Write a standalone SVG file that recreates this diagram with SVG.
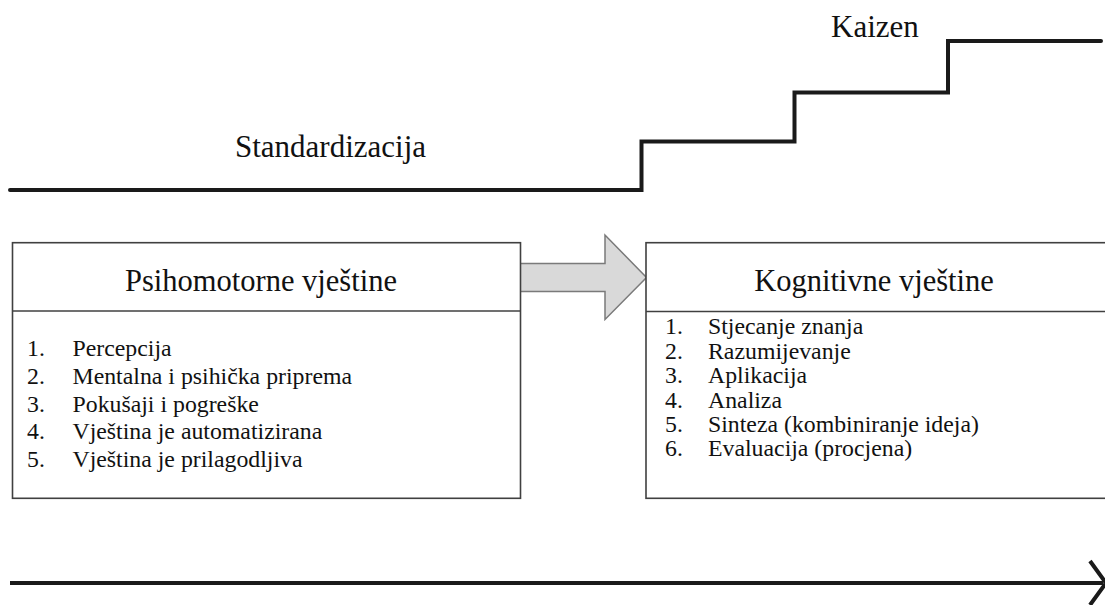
<svg xmlns="http://www.w3.org/2000/svg" width="1105" height="605" viewBox="0 0 1105 605" font-family="'Liberation Serif', 'Times New Roman', 'DejaVu Serif', serif">
<style>
text{font-family:'Liberation Serif','Times New Roman','DejaVu Serif',serif;fill:#111}
.title{font-size:30.5px;text-anchor:middle}
.lbl{font-size:31px}
.item{font-size:23.8px}
.box{fill:#fff;stroke:#404040;stroke-width:1.6}
.thick{fill:none;stroke:#1a1a1a;stroke-width:4;stroke-linejoin:miter}
</style>
<rect width="1105" height="605" fill="#fff"/>
<g id="connectors">
<path class="thick" d="M10,190 H641.5 V141.5 H794.5 V92.5 H948 V41 H1101" stroke-linecap="round"/>
<path id="shift-arrow" d="M520,263.5 H605 V235 L646.5,277.5 L605,319.5 V291.5 H520 Z" fill="#d9d9d9" stroke="#7a7a7a" stroke-width="1.5"/>
<path class="thick" d="M10,583 H1103" stroke-width="3.6"/>
<path class="thick" d="M1090,561 L1106,583 L1090,605" stroke-width="3.6"/>
</g>
<g id="standardizacija"><text class="lbl" x="235" y="157">Standardizacija</text></g>
<g id="kaizen"><text class="lbl" x="831" y="37">Kaizen</text></g>
<g id="psihomotorne">
<rect class="box" x="12.5" y="242.7" width="508" height="255.6"/>
<line class="box" x1="12.5" y1="311" x2="520.5" y2="311"/>
<text class="title" x="261" y="291">Psihomotorne vještine</text>
<text class="item" x="27" y="356">1.</text><text class="item" x="72.5" y="356">Percepcija</text>
<text class="item" x="27" y="384">2.</text><text class="item" x="72.5" y="384">Mentalna i psihička priprema</text>
<text class="item" x="27" y="411.5">3.</text><text class="item" x="72.5" y="411.5">Pokušaji i pogreške</text>
<text class="item" x="27" y="439">4.</text><text class="item" x="72.5" y="439">Vještina je automatizirana</text>
<text class="item" x="27" y="466.5">5.</text><text class="item" x="72.5" y="466.5">Vještina je prilagodljiva</text>
</g>
<g id="kognitivne">
<rect class="box" x="646" y="242.7" width="470" height="255.6"/>
<line class="box" x1="646" y1="311.5" x2="1110" y2="311.5"/>
<text class="title" x="874" y="291">Kognitivne vještine</text>
<text class="item" x="665" y="334">1.</text><text class="item" x="708" y="334">Stjecanje znanja</text>
<text class="item" x="665" y="358.5">2.</text><text class="item" x="708" y="358.5">Razumijevanje</text>
<text class="item" x="665" y="383">3.</text><text class="item" x="708" y="383">Aplikacija</text>
<text class="item" x="665" y="407.5">4.</text><text class="item" x="708" y="407.5">Analiza</text>
<text class="item" x="665" y="432">5.</text><text class="item" x="708" y="432">Sinteza (kombiniranje ideja)</text>
<text class="item" x="665" y="456">6.</text><text class="item" x="708" y="456">Evaluacija (procjena)</text>
</g>
</svg>
